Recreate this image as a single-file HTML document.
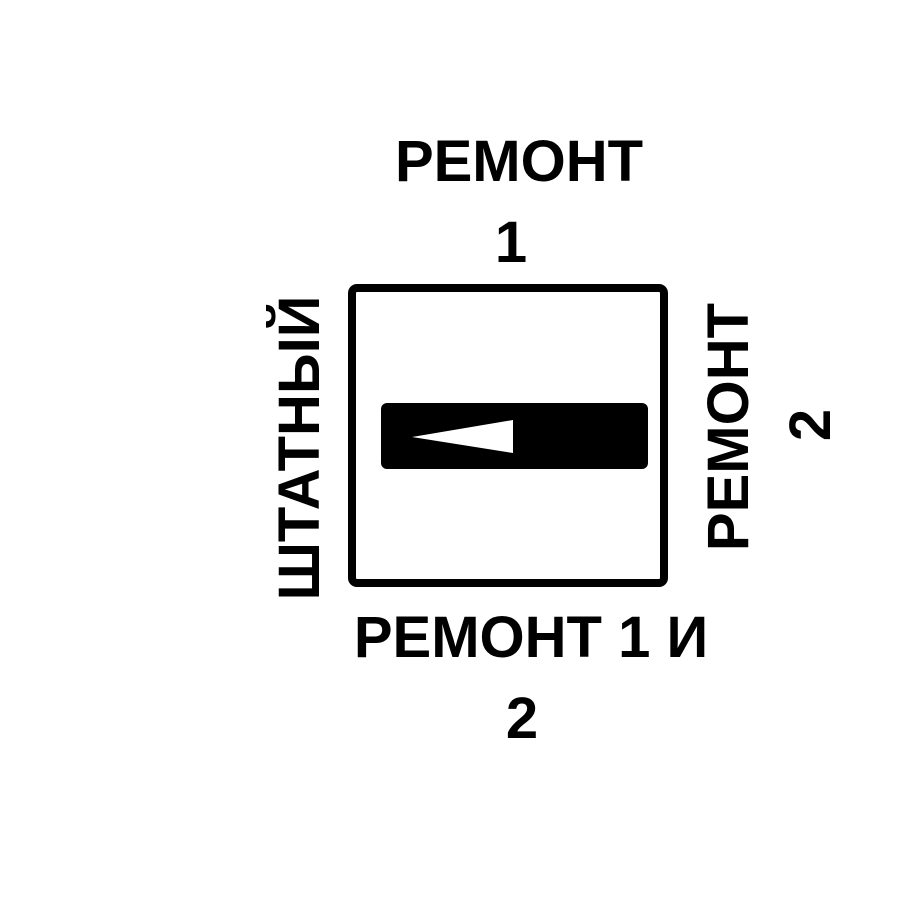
<!DOCTYPE html>
<html>
<head>
<meta charset="utf-8">
<style>
  html, body { margin: 0; padding: 0; background: #fff; }
  svg { display: block; }
  text { font-family: "Liberation Sans", "DejaVu Sans", sans-serif; font-weight: bold; font-size: 58px; fill: #000; }
</style>
</head>
<body>
<svg width="900" height="900" viewBox="0 0 900 900">
  <rect x="0" y="0" width="900" height="900" fill="#fff"/>
  <rect x="352" y="288" width="312" height="295" rx="5" fill="none" stroke="#000" stroke-width="8"/>
  <rect x="381" y="403" width="267" height="66" rx="6" fill="#000"/>
  <polygon points="412,437 513,420 513,453" fill="#fff"/>

  <text x="519" y="181" text-anchor="middle">РЕМОНТ</text>
  <text x="511" y="262" text-anchor="middle">1</text>

  <text x="531" y="657" text-anchor="middle">РЕМОНТ 1 И</text>
  <text x="522" y="738" text-anchor="middle">2</text>

  <text x="319" y="448" text-anchor="middle" transform="rotate(-90 319 448)">ШТАТНЫЙ</text>

  <text x="748" y="427" text-anchor="middle" transform="rotate(-90 748 427)">РЕМОНТ</text>
  <text x="830" y="425" text-anchor="middle" transform="rotate(-90 830 425)">2</text>
</svg>
</body>
</html>
